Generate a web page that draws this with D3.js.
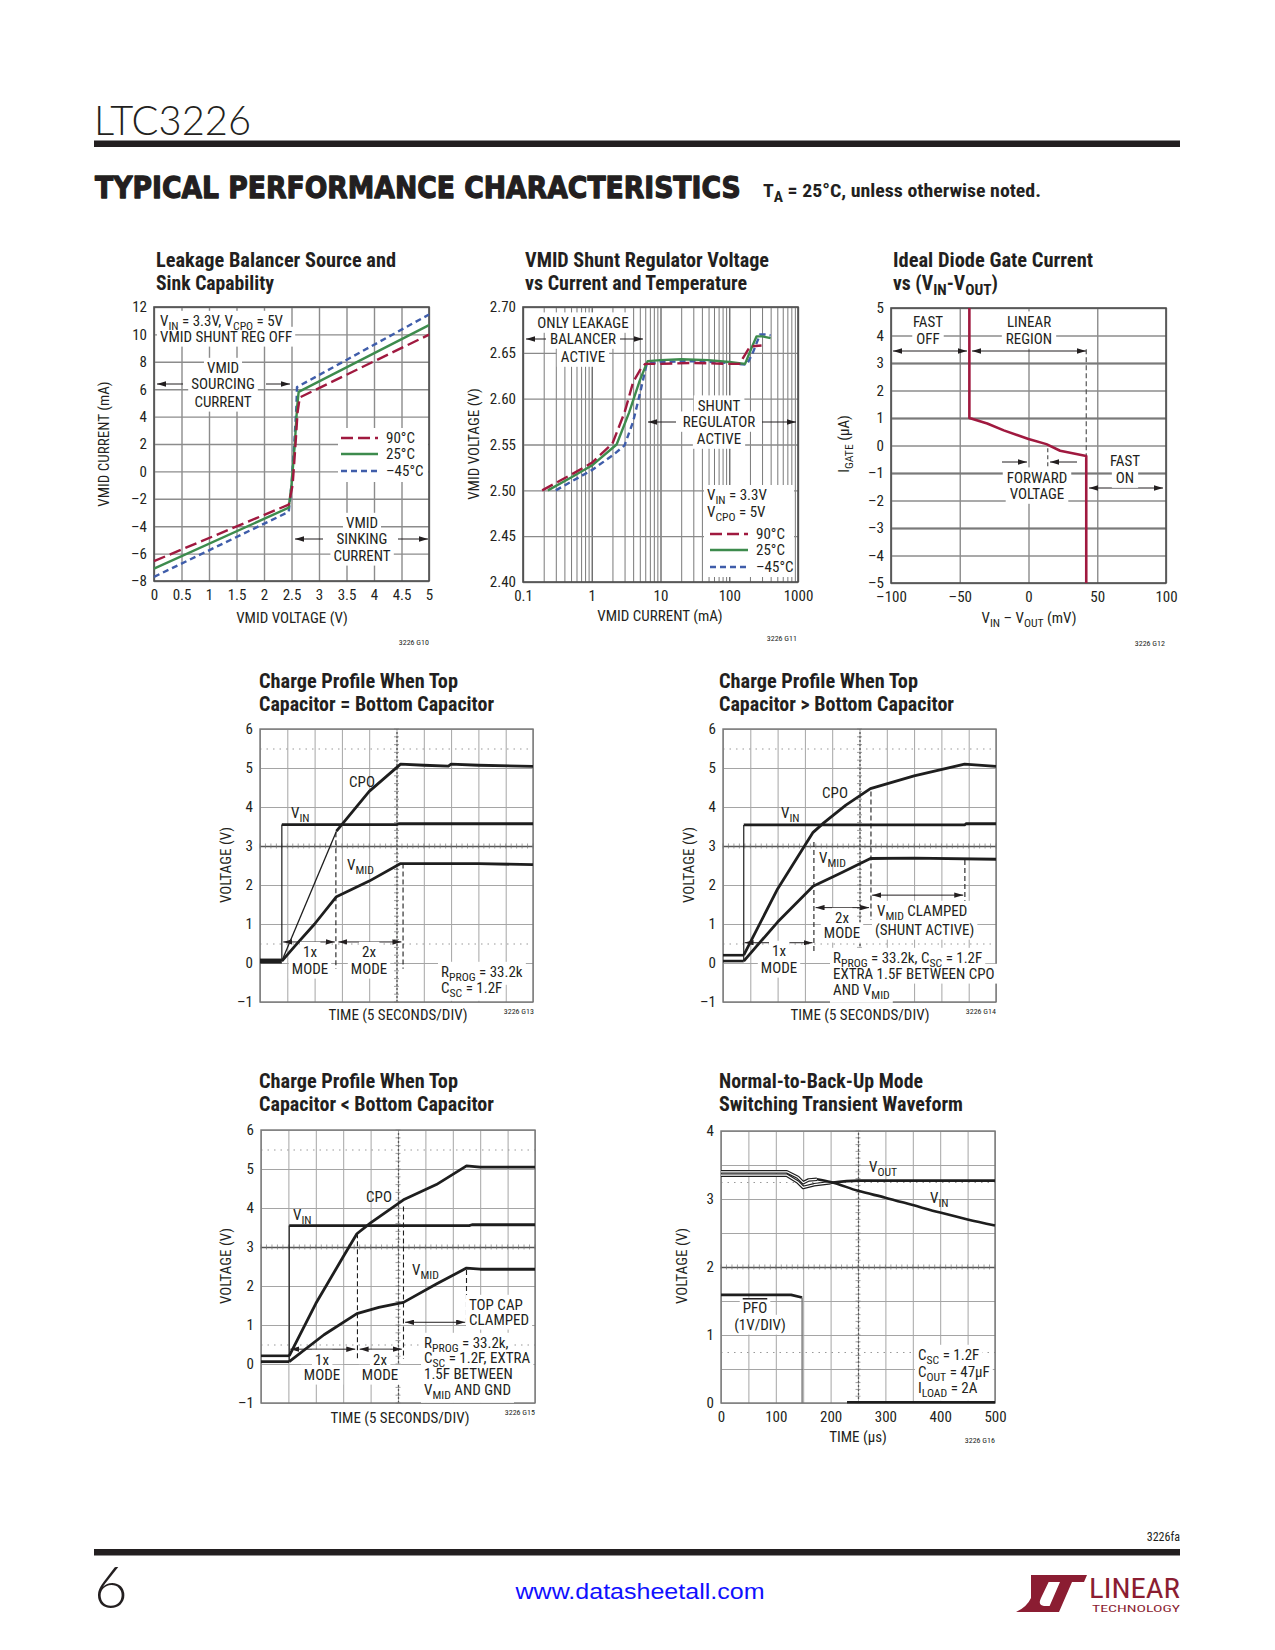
<!DOCTYPE html>
<html><head><meta charset="utf-8">
<script src="https://cdn.jsdelivr.net/npm/d3@7"></script>
<style>body{margin:0;background:#fff}</style></head>
<body><svg id="page" width="1275" height="1650"></svg>
<script>
// ---------------- DATA ----------------
// Chart 1: Leakage balancer (VMID voltage V, VMID current mA)
const c1Ticks = {x: [0,0.5,1,1.5,2,2.5,3,3.5,4,4.5,5], y: [-8,-6,-4,-2,0,2,4,6,8,10,12]};
const c1Labels = ["90°C","25°C","–45°C"];
const c1Hot  = [[0,-6.55],[2.45,-2.42],[2.52,-1],[2.57,1.8],[2.61,4.3],[2.65,5.4],[5,9.98]];
const c1Room = [[0,-7.1],[2.45,-2.65],[2.5,-1],[2.56,2],[2.6,4.6],[2.63,5.8],[5,10.68]];
const c1Cold = [[0,-7.7],[2.45,-2.95],[2.5,-1],[2.55,2],[2.59,4.8],[2.6,6.15],[5,11.45]];
// Chart 2: VMID shunt regulator (current mA, voltage V)
const c2XTicks = [0.1,1,10,100,1000];
const c2YTicks = [2.40,2.45,2.50,2.55,2.60,2.65,2.70];
const c2Hot  = [[0.19,2.500],[0.5,2.517],[1,2.530],[2.0,2.551],[3,2.585],[4,2.618],[5.2,2.633],[6,2.638],[10,2.638],[30,2.639],[100,2.638],[140,2.638],[170,2.648],[200,2.657],[295,2.658]];
const c2Room = [[0.23,2.500],[0.5,2.514],[1,2.527],[2.3,2.550],[3.5,2.585],[5,2.620],[6.5,2.641],[10,2.642],[20,2.643],[50,2.642],[100,2.640],[170,2.638],[210,2.655],[250,2.668],[300,2.668],[400,2.666]];
const c2Cold = [[0.3,2.500],[1,2.522],[2,2.538],[3.0,2.549],[4,2.575],[5,2.605],[6.3,2.638],[10,2.640],[30,2.641],[100,2.639],[180,2.637],[220,2.650],[280,2.670],[330,2.670],[400,2.669]];
// Chart 3: Ideal diode gate current (mV, µA)
const c3XTicks = [-100,-50,0,50,100];
const c3YTicks = [-5,-4,-3,-2,-1,0,1,2,3,4,5];
const c3Gate = [[-43,5],[-43,1],[-30,0.8],[-18,0.55],[0,0.24],[13,0.05],[23,-0.19],[42,-0.38],[42,-5]];
// Scope charts: x in divisions (5 s/div), y in volts
const scopeYTicks = [-1,0,1,2,3,4,5,6];
const c4Base = [[0,0.05],[0.8,0.05]];
const c4Vin  = [[0.8,3.55],[5,3.55],[5.1,3.57],[7,3.57],[10,3.57]];
const c4Cpo1 = [[0.8,0.05],[2.8,3.38]];
const c4Cpo2 = [[2.8,3.38],[3.2,3.72],[4,4.4],[5.15,5.1],[6,5.07],[6.9,5.05],[7.0,5.1],[8,5.07],[10,5.04]];
const c4Vmid = [[0.8,0.05],[1.3,0.45],[2,1.0],[2.8,1.7],[4,2.1],[5.15,2.55],[6,2.55],[8,2.55],[10,2.52]];
const c5BaseHi = [[0,0.2],[0.76,0.2]];
const c5BaseLo = [[0,0.05],[0.76,0.05]];
const c5Vin  = [[0.76,3.54],[8.85,3.54],[8.9,3.57],[10,3.57]];
const c5Cpo  = [[0.76,0.2],[2,1.9],[3.3,3.35],[3.7,3.6],[4.5,4.05],[5.4,4.47],[7,4.8],[8.85,5.1],[10,5.04]];
const c5Vmid = [[0.76,0.05],[2,1.05],[3.3,1.97],[4.3,2.3],[5.4,2.68],[7,2.69],[10,2.66]];
const c6BaseHi = [[0,0.21],[1.03,0.21]];
const c6BaseLo = [[0,0.06],[1.03,0.06]];
const c6Vin  = [[1.03,3.55],[7.6,3.55],[7.7,3.57],[10,3.57]];
const c6Cpo  = [[1.03,0.21],[2,1.55],[3,2.75],[3.5,3.34],[4,3.62],[5.2,4.21],[6.4,4.6],[7.5,5.08],[8,5.05],[10,5.05]];
const c6Vmid = [[1.03,0.06],[2.3,0.75],[3.5,1.29],[4.3,1.45],[5.2,1.58],[6.4,2.05],[7.5,2.46],[8,2.43],[10,2.43]];
// Chart 7: switching transient (µs, V)
const c7XTicks = [0,100,200,300,400,500];
const c7YTicks = [0,1,2,3,4];
const c7Vin  = [[0,3.40],[120,3.40],[140,3.32],[150,3.24],[160,3.28],[175,3.29],[200,3.25],[250,3.12],[300,3.02],[350,2.91],[400,2.80],[450,2.70],[500,2.61]];
const c7Vout = [[0,3.35],[120,3.35],[140,3.25],[150,3.17],[170,3.21],[200,3.24],[250,3.27],[500,3.27]];
const c7Pfo  = [[0,1.59],[128,1.59],[148,1.55]];
const c7PfoLow = [[230,0.01],[500,0.01]];

// ---------------- HELPERS ----------------
const FF = "'Liberation Sans Narrow','Arial Narrow','Roboto Condensed','DejaVu Sans Condensed',Roboto,sans-serif";
const FS = 15;
const INK = '#231f20';
const RED = '#a0193f', GREEN = '#3d8b4d', BLUE = '#3f5daa';
const svg = d3.select('#page');
svg.append('rect').attr('width',1275).attr('height',1650).attr('fill','#fff');
const defs = svg.append('defs');
defs.append('marker').attr('id','ah').attr('viewBox','0 0 10 6').attr('refX',10).attr('refY',3)
  .attr('markerWidth',9).attr('markerHeight',5.4).attr('markerUnits','userSpaceOnUse')
  .attr('orient','auto-start-reverse').append('path').attr('d','M0,0L10,3L0,6Z').attr('fill',INK);
// layers: white knock-out boxes under all annotation texts
const haloG = svg.append('g').attr('class','halos');
const textG = svg.append('g').attr('class','texts');

function rich(parent, x, y, str, o={}){
  const fs=o.size||FS;
  const t=(o.halo?textG:parent).append('text').attr('x',x).attr('y',y).attr('font-family',o.family||FF).attr('font-size',fs)
    .attr('text-anchor',o.anchor||'start').attr('fill',o.fill||INK);
  if(o.weight) t.attr('font-weight',o.weight);
  if(o.rotate) t.attr('transform',`rotate(${o.rotate},${x},${y})`);
  if(o.len) t.attr('textLength',o.len).attr('lengthAdjust','spacingAndGlyphs');
  if(o.deco) t.attr('text-decoration',o.deco);
  if(o.stroke) t.attr('stroke',o.fill||INK).attr('stroke-width',o.stroke).attr('stroke-linejoin','round');
  const parts=str.split(/(_\{[^}]*\})/).filter(s=>s.length);
  let sub=false;
  parts.forEach(p=>{
    if(p.startsWith('_{')){ t.append('tspan').attr('dy',fs*0.28).attr('font-size',fs*0.78).text(p.slice(2,-1)); sub=true; }
    else { const ts=t.append('tspan').text(p); if(sub){ ts.attr('dy',-fs*0.28); sub=false; } }
  });
  if(o.fit){
    const w=t.node().getComputedTextLength();
    const s=o.fit/w;
    t.attr('transform',`translate(${x},${y}) scale(${s},1) translate(${-x},${-y})`);
  }
  if(o.halo){
    const b=t.node().getBBox(), p=o.halo/2;
    haloG.append('rect').attr('x',b.x-p).attr('y',b.y-p*0.4).attr('width',b.width+2*p).attr('height',b.height+p*0.6).attr('fill','#fff');
  }
  return t;
}
function arrow(x1,y1,x2,y2,both){
  const l=svg.append('line').attr('x1',x1).attr('y1',y1).attr('x2',x2).attr('y2',y2)
    .attr('stroke',INK).attr('stroke-width',1).attr('marker-end','url(#ah)');
  if(both) l.attr('marker-start','url(#ah)');
}
const fmtMinus = d => d<0 ? '–'+Math.abs(d) : String(d);
function title(x,y,l1,w1,l2,w2){
  rich(svg,x,y,l1,{size:19.5,weight:'bold',len:w1});
  rich(svg,x,y+23,l2,{size:19.5,weight:'bold',len:w2});
}
function gridX(x,y,vals,opt={}){
  const [y0,y1]=y.range();
  const g=svg.append('g').attr('transform',`translate(0,${y0})`)
    .call(d3.axisBottom(x).tickValues(vals).tickSize(-(y0-y1)).tickFormat(''));
  g.select('.domain').remove();
  g.selectAll('line').attr('stroke',opt.color||'#8c8c8c').attr('stroke-width',opt.w||1.2).attr('stroke-dasharray',opt.dash||null);
  return g;
}
function gridY(x,y,vals,opt={}){
  const [x0,x1]=x.range();
  const g=svg.append('g').attr('transform',`translate(${x0},0)`)
    .call(d3.axisLeft(y).tickValues(vals).tickSize(-(x1-x0)).tickFormat(''));
  g.select('.domain').remove();
  g.selectAll('line').attr('stroke',opt.color||'#8c8c8c').attr('stroke-width',opt.w||1.2).attr('stroke-dasharray',opt.dash||null);
  return g;
}
function labelsX(x,y,vals,fmt,pad){
  const g=svg.append('g').attr('transform',`translate(0,${y.range()[0]})`)
    .call(d3.axisBottom(x).tickValues(vals).tickSize(0).tickPadding(pad||8).tickFormat(fmt));
  g.select('.domain').remove();
  g.selectAll('text').attr('font-family',FF).attr('font-size',FS).attr('fill',INK);
}
function labelsY(x,y,vals,fmt,pad){
  const g=svg.append('g').attr('transform',`translate(${x.range()[0]},0)`)
    .call(d3.axisLeft(y).tickValues(vals).tickSize(0).tickPadding(pad||7).tickFormat(fmt));
  g.select('.domain').remove();
  g.selectAll('text').attr('font-family',FF).attr('font-size',FS).attr('fill',INK);
}
function frame(x,y,color,w){
  const [x0,x1]=x.range(),[y0,y1]=y.range();
  svg.append('rect').attr('x',x0).attr('y',y1).attr('width',x1-x0).attr('height',y0-y1)
    .attr('fill','none').attr('stroke',color||'#4d4d4d').attr('stroke-width',w||1.6);
}
function path(x,y,data,stroke,w,dash,curve){
  const line=d3.line().x(d=>x(d[0])).y(d=>y(d[1])).curve(curve||d3.curveLinear);
  return svg.append('path').attr('d',line(data)).attr('fill','none').attr('stroke',stroke)
    .attr('stroke-width',w).attr('stroke-dasharray',dash||null).attr('stroke-linejoin','round').attr('stroke-linecap','butt');
}
function seg(x,y,xa,ya,xb,yb,stroke,w,dash){
  svg.append('line').attr('x1',x(xa)).attr('y1',y(ya)).attr('x2',x(xb)).attr('y2',y(yb))
    .attr('stroke',stroke).attr('stroke-width',w).attr('stroke-dasharray',dash||null);
}
function code(xr,yb,txt){ rich(svg,xr,yb,txt,{size:8,anchor:'end'}); }
function xLabel(cx,yb,txt){ rich(svg,cx,yb,txt,{anchor:'middle'}); }
function yLabel(xc,cy,txt){ rich(svg,xc+5,cy,txt,{anchor:'middle',rotate:-90}); }

// ---------------- HEADER / FOOTER ----------------
rich(svg,94,135,'LTC3226',{size:42,weight:300,family:"Lato,'Open Sans',Roboto,sans-serif",len:157});
svg.append('rect').attr('x',94).attr('y',140.5).attr('width',1086).attr('height',6.5).attr('fill',INK);
rich(svg,95,198,'TYPICAL PERFORMANCE CHARACTERISTICS',{size:31,weight:900,family:"'DejaVu Sans',Roboto,sans-serif",fit:646,stroke:1.3});
rich(svg,763,197,'T_{A} = 25°C, unless otherwise noted.',{size:19,weight:'bold',len:278});
rich(svg,1180,1541,'3226fa',{size:12,anchor:'end'});
svg.append('rect').attr('x',94).attr('y',1549).attr('width',1086).attr('height',6.5).attr('fill',INK);
rich(svg,94,1608,'6',{size:58,weight:300,family:"Lato,'Open Sans',Roboto,sans-serif"});
rich(svg,640,1599,'www.datasheetall.com',{size:22,anchor:'middle',fill:'#1010ff',family:"'Liberation Sans',Arial,sans-serif",len:249});
const LOGO='#8b1d32';
svg.append('path').attr('d','M1031,1575 L1052,1575 L1041,1598 Q1037,1606 1046,1606 L1052,1606 L1048,1612 L1016,1612 Q1027,1607 1031,1598 Z').attr('fill',LOGO);
svg.append('path').attr('d','M1047,1575 L1087,1575 L1084,1582 L1072,1582 L1059,1612 L1047,1612 L1060,1582 L1044,1582 Z').attr('fill',LOGO);
rich(svg,1089,1598,'LINEAR',{size:28,fill:LOGO,len:91});
rich(svg,1092,1612,'TECHNOLOGY',{size:9.5,fill:LOGO,len:88});

// ---------------- CHART 1 ----------------
{
  const x=d3.scaleLinear([0,5],[154,429]), y=d3.scaleLinear([-8,12],[581,307]);
  title(156,267,'Leakage Balancer Source and',240,'Sink Capability',118);
  gridX(x,y,c1Ticks.x,{w:1.4}); gridY(x,y,c1Ticks.y,{w:1.4});
  frame(x,y);
  labelsX(x,y,c1Ticks.x,d=>String(d),8); labelsY(x,y,c1Ticks.y,fmtMinus,7);
  const H=6;
  rich(svg,160,326,'V_{IN} = 3.3V, V_{CPO} = 5V',{halo:H});
  rich(svg,160,342,'VMID SHUNT REG OFF',{halo:H});
  ['VMID','SOURCING','CURRENT'].forEach((s,i)=>rich(svg,223,[373,389,407][i],s,{anchor:'middle',halo:H}));
  ['VMID','SINKING','CURRENT'].forEach((s,i)=>rich(svg,362,[528,544,561][i],s,{anchor:'middle',halo:H}));
  arrow(183,384,157,384); arrow(266,384,290,384);
  arrow(323,539,295,539); arrow(398,539,428,539);
  path(x,y,c1Cold,BLUE,2.4,'6,4');
  path(x,y,c1Room,GREEN,2.4);
  path(x,y,c1Hot,RED,2.4,'12,5');
  // legend
  svg.append('rect').attr('x',338).attr('y',428).attr('width',90).attr('height',54).attr('fill','#fff');
  [[RED,'12,5'],[GREEN,null],[BLUE,'6,4']].forEach((s,i)=>{
    const yy=[438,454,471][i];
    svg.append('line').attr('x1',341).attr('x2',378).attr('y1',yy).attr('y2',yy).attr('stroke',s[0]).attr('stroke-width',2.4).attr('stroke-dasharray',s[1]);
    rich(svg,386,yy+5,c1Labels[i]);
  });
  xLabel(292,623,'VMID VOLTAGE (V)'); yLabel(104,444,'VMID CURRENT (mA)');
  code(429,645,'3226 G10');
}
// ---------------- CHART 2 ----------------
{
  const x=d3.scaleLog([0.1,1000],[523,798]), y=d3.scaleLinear([2.40,2.70],[582,307]);
  title(525,267,'VMID Shunt Regulator Voltage',244,'vs Current and Temperature',222);
  const minor=[]; [0.1,1,10,100].forEach(d=>{for(let k=2;k<=9;k++) minor.push(d*k);});
  gridX(x,y,minor,{w:1,color:'#7a7a7a'});
  gridX(x,y,c2XTicks,{w:1.4,color:'#6a6a6a'});
  gridY(x,y,c2YTicks,{w:1.4,color:'#8a8a8a'});
  frame(x,y);
  labelsX(x,y,c2XTicks,d=>String(d),8); labelsY(x,y,c2YTicks,d=>d.toFixed(2),7);
  const H=8;
  ['ONLY LEAKAGE','BALANCER','ACTIVE'].forEach((s,i)=>rich(svg,583,[328,344,362][i],s,{anchor:'middle',halo:H}));
  arrow(546,339,526,339); arrow(620,339,643,339);
  ['SHUNT','REGULATOR','ACTIVE'].forEach((s,i)=>rich(svg,719,[411,427,444][i],s,{anchor:'middle',halo:H}));
  arrow(676,422,648,422); arrow(762,422,796,422);
  svg.append('rect').attr('x',704).attr('y',485).attr('width',90).attr('height',92).attr('fill','#fff');
  path(x,y,c2Cold,BLUE,2.4,'6,4');
  path(x,y,c2Room,GREEN,2.4);
  path(x,y,c2Hot,RED,2.4,'12,5');
  rich(svg,707,500,'V_{IN} = 3.3V'); rich(svg,707,517,'V_{CPO} = 5V');
  [[RED,'12,5'],[GREEN,null],[BLUE,'6,4']].forEach((s,i)=>{
    const yy=[534,550,567][i];
    svg.append('line').attr('x1',710).attr('x2',748).attr('y1',yy).attr('y2',yy).attr('stroke',s[0]).attr('stroke-width',2.4).attr('stroke-dasharray',s[1]);
    rich(svg,756,yy+5,c1Labels[i]);
  });
  xLabel(660,621,'VMID CURRENT (mA)'); yLabel(474,444,'VMID VOLTAGE (V)');
  code(797,641,'3226 G11');
}
// ---------------- CHART 3 ----------------
{
  const x=d3.scaleLinear([-100,100],[891,1166]), y=d3.scaleLinear([-5,5],[583,308]);
  title(893,267,'Ideal Diode Gate Current',200,'vs (V_{IN}-V_{OUT})',105);
  gridX(x,y,c3XTicks,{w:1.4}); gridY(x,y,c3YTicks,{w:1.4});
  gridY(x,y,[3,1,-1,-3],{w:2.2,color:'#7a7a7a'});
  frame(x,y);
  labelsX(x,y,c3XTicks,fmtMinus,8); labelsY(x,y,c3YTicks,fmtMinus,7);
  const H=8;
  rich(svg,928,327,'FAST',{anchor:'middle',halo:H}); rich(svg,928,344,'OFF',{anchor:'middle',halo:H});
  rich(svg,1029,327,'LINEAR',{anchor:'middle',halo:H}); rich(svg,1029,344,'REGION',{anchor:'middle',halo:H});
  rich(svg,1037,483,'FORWARD',{anchor:'middle',halo:H}); rich(svg,1037,499,'VOLTAGE',{anchor:'middle',halo:H});
  rich(svg,1125,466,'FAST',{anchor:'middle',halo:H}); rich(svg,1125,483,'ON',{anchor:'middle',halo:H});
  seg(x,y,42,3.5,42,-0.4,'#555',1.2,'5,3');
  seg(x,y,14,-0.1,14,-0.75,'#555',1.2,'4,3');
  arrow(893,351,967,351,true); arrow(972,351,1086,351,true);
  arrow(1002,462,1027,462); arrow(1077,462,1050,462);
  arrow(1089,488,1163,488,true);
  path(x,y,c3Gate,RED,2.6);
  xLabel(1029,623,'V_{IN} – V_{OUT} (mV)'); yLabel(844,444,'I_{GATE} (µA)');
  code(1165,646,'3226 G12');
}
// ---------------- SCOPE CHARTS ----------------
function scopeGrid(x,y){
  gridX(x,y,d3.range(0,11),{w:1,color:'#a5a5a5'});
  gridY(x,y,scopeYTicks,{w:1,color:'#a5a5a5'});
  gridY(x,y,[0.5,5.5],{w:1.2,color:'#999',dash:'1.5,5'});
  gridX(x,y,[5],{w:1.3,color:'#555',dash:'2,2'});
  gridY(x,y,[3],{w:1.4,color:'#555'});
  d3.range(0,10.01,0.2).forEach(d=>{ svg.append('line').attr('x1',x(d)).attr('x2',x(d)).attr('y1',y(3)-2.5).attr('y2',y(3)+2.5).attr('stroke','#777').attr('stroke-width',0.7); });
  d3.range(-1,6.01,0.2).forEach(d=>{ svg.append('line').attr('x1',x(5)-2.5).attr('x2',x(5)+2.5).attr('y1',y(d)).attr('y2',y(d)).attr('stroke','#777').attr('stroke-width',0.7); });
  frame(x,y,'#777',1.4);
  labelsY(x,y,scopeYTicks,fmtMinus,7);
}
const TR='#1e1e1e';
const HS=6;
// Chart 4
{
  const x=d3.scaleLinear([0,10],[260,533]), y=d3.scaleLinear([-1,6],[1002,729]);
  title(259,688,'Charge Profile When Top',199,'Capacitor = Bottom Capacitor',235);
  scopeGrid(x,y);
  path(x,y,c4Base,TR,5);
  seg(x,y,c4Vin[0][0],c4Base[1][1],c4Vin[0][0],c4Vin[0][1],TR,1.2);
  path(x,y,c4Vin,TR,2.8);
  path(x,y,c4Cpo1,TR,1.3);
  path(x,y,c4Cpo2,TR,2.8);
  path(x,y,c4Vmid,TR,2.8);
  seg(x,y,2.78,3.35,2.78,-0.15,TR,1.1,'5,3');
  seg(x,y,5.24,2.55,5.24,-0.15,TR,1.1,'5,3');
  arrow(x(0.85),y(0.54),x(2.74),y(0.54),true); arrow(x(2.87),y(0.54),x(5.18),y(0.54),true);
  rich(svg,362,787,'CPO',{anchor:'middle'});
  rich(svg,291,818,'V_{IN}');
  rich(svg,347,870,'V_{MID}');
  rich(svg,310,957,'1x',{anchor:'middle',halo:HS}); rich(svg,310,974,'MODE',{anchor:'middle',halo:HS});
  rich(svg,369,957,'2x',{anchor:'middle',halo:HS}); rich(svg,369,974,'MODE',{anchor:'middle',halo:HS});
  rich(svg,441,977,'R_{PROG} = 33.2k',{halo:HS}); rich(svg,441,993,'C_{SC} = 1.2F',{halo:HS});
  xLabel(398,1020,'TIME (5 SECONDS/DIV)'); yLabel(226,865,'VOLTAGE (V)');
  code(534,1014,'3226 G13');
}
// Chart 5
{
  const x=d3.scaleLinear([0,10],[723,996]), y=d3.scaleLinear([-1,6],[1002,729]);
  title(719,688,'Charge Profile When Top',199,'Capacitor > Bottom Capacitor',235);
  scopeGrid(x,y);
  path(x,y,c5BaseHi,TR,2.6); path(x,y,c5BaseLo,TR,2.6);
  seg(x,y,c5Vin[0][0],c5BaseLo[1][1],c5Vin[0][0],c5Vin[0][1],TR,1.2);
  path(x,y,c5Vin,TR,2.8);
  path(x,y,c5Cpo,TR,2.8);
  path(x,y,c5Vmid,TR,2.8);
  seg(x,y,3.33,3.1,3.33,0.25,TR,1.1,'5,3');
  seg(x,y,5.42,4.4,5.42,1.1,TR,1.1,'5,3');
  seg(x,y,8.86,2.64,8.86,1.55,TR,1.1,'5,3');
  arrow(x(0.79),y(0.52),x(3.28),y(0.52),true);
  arrow(x(3.39),y(1.42),x(5.35),y(1.42),true);
  arrow(x(5.46),y(1.74),x(8.8),y(1.74),true);
  rich(svg,835,798,'CPO',{anchor:'middle'});
  rich(svg,781,818,'V_{IN}');
  rich(svg,819,863,'V_{MID}');
  rich(svg,779,956,'1x',{anchor:'middle',halo:HS}); rich(svg,779,973,'MODE',{anchor:'middle',halo:HS});
  rich(svg,842,923,'2x',{anchor:'middle',halo:HS}); rich(svg,842,938,'MODE',{anchor:'middle',halo:HS});
  rich(svg,877,916,'V_{MID} CLAMPED',{halo:HS}); rich(svg,875,935,'(SHUNT ACTIVE)',{halo:HS});
  rich(svg,833,963,'R_{PROG} = 33.2k, C_{SC} = 1.2F',{halo:HS});
  rich(svg,833,979,'EXTRA 1.5F BETWEEN CPO',{halo:HS});
  rich(svg,833,995,'AND V_{MID}',{halo:HS});
  xLabel(860,1020,'TIME (5 SECONDS/DIV)'); yLabel(689,865,'VOLTAGE (V)');
  code(996,1014,'3226 G14');
}
// Chart 6
{
  const x=d3.scaleLinear([0,10],[261,535]), y=d3.scaleLinear([-1,6],[1403,1130]);
  title(259,1088,'Charge Profile When Top',199,'Capacitor < Bottom Capacitor',235);
  scopeGrid(x,y);
  path(x,y,c6BaseHi,TR,2.6); path(x,y,c6BaseLo,TR,2.8);
  seg(x,y,c6Vin[0][0],c6BaseLo[1][1],c6Vin[0][0],c6Vin[0][1],TR,1.2);
  path(x,y,c6Vin,TR,2.8);
  path(x,y,c6Cpo,TR,2.8);
  path(x,y,c6Vmid,TR,2.8);
  seg(x,y,3.52,3.35,3.52,0.15,TR,1.1,'5,3');
  seg(x,y,5.2,4.04,5.2,0.13,TR,1.1,'5,3');
  seg(x,y,7.5,2.41,7.5,1.05,TR,1.1,'5,3');
  arrow(x(1.07),y(0.38),x(3.44),y(0.38),true);
  arrow(x(3.6),y(0.38),x(5.14),y(0.38),true);
  arrow(x(5.26),y(1.07),x(7.45),y(1.07),true);
  rich(svg,379,1202,'CPO',{anchor:'middle'});
  rich(svg,293,1220,'V_{IN}');
  rich(svg,412,1275,'V_{MID}');
  rich(svg,322,1365,'1x',{anchor:'middle',halo:HS}); rich(svg,322,1380,'MODE',{anchor:'middle',halo:HS});
  rich(svg,380,1365,'2x',{anchor:'middle',halo:HS}); rich(svg,380,1380,'MODE',{anchor:'middle',halo:HS});
  rich(svg,469,1310,'TOP CAP',{halo:HS}); rich(svg,469,1325,'CLAMPED',{halo:HS});
  rich(svg,424,1348,'R_{PROG} = 33.2k,',{halo:HS});
  rich(svg,424,1363,'C_{SC} = 1.2F, EXTRA',{halo:HS});
  rich(svg,424,1379,'1.5F BETWEEN',{halo:HS});
  rich(svg,424,1395,'V_{MID} AND GND',{halo:HS});
  xLabel(400,1423,'TIME (5 SECONDS/DIV)'); yLabel(226,1266,'VOLTAGE (V)');
  code(535,1415,'3226 G15');
}
// Chart 7
{
  const x=d3.scaleLinear([0,500],[721,995]), y=d3.scaleLinear([0,4],[1403,1131]);
  title(719,1088,'Normal-to-Back-Up Mode',204,'Switching Transient Waveform',244);
  gridX(x,y,d3.range(0,501,50),{w:1,color:'#a5a5a5'});
  gridY(x,y,d3.range(0,4.01,0.5),{w:1,color:'#a5a5a5'});
  gridY(x,y,[3.25,0.75],{w:1.2,color:'#999',dash:'1.5,5'});
  gridX(x,y,[250],{w:1.3,color:'#555',dash:'2,2'});
  gridY(x,y,[2],{w:1.4,color:'#555'});
  d3.range(0,500.1,10).forEach(d=>svg.append('line').attr('x1',x(d)).attr('x2',x(d)).attr('y1',y(2)-2.5).attr('y2',y(2)+2.5).attr('stroke','#777').attr('stroke-width',0.7));
  d3.range(0,4.01,0.1).forEach(d=>svg.append('line').attr('x1',x(250)-2.5).attr('x2',x(250)+2.5).attr('y1',y(d)).attr('y2',y(d)).attr('stroke','#777').attr('stroke-width',0.7));
  frame(x,y,'#777',1.4);
  labelsX(x,y,c7XTicks,d=>String(d),8); labelsY(x,y,c7YTicks,d=>String(d),7);
  const outline=(data)=>{ path(x,y,data,TR,3.6); path(x,y,data,'#fff',1.2); };
  outline(c7Vin.slice(0,6)); outline(c7Vout.slice(0,6));
  path(x,y,c7Vin.slice(5),TR,2.6,null,d3.curveMonotoneX);
  path(x,y,c7Vout.slice(5),TR,2.6,null,d3.curveMonotoneX);
  path(x,y,c7Pfo,TR,2.6);
  seg(x,y,148,1.55,148,0,'#777',1.4);
  path(x,y,c7PfoLow,TR,2.6);
  rich(svg,869,1172,'V_{OUT}');
  rich(svg,930,1203,'V_{IN}');
  rich(svg,755,1313,'PFO',{anchor:'middle',deco:'overline',halo:HS});
  rich(svg,760,1330,'(1V/DIV)',{anchor:'middle',halo:HS});
  rich(svg,918,1360,'C_{SC} = 1.2F',{halo:HS});
  rich(svg,918,1377,'C_{OUT} = 47µF',{halo:HS});
  rich(svg,918,1393,'I_{LOAD} = 2A',{halo:HS});
  xLabel(858,1442,'TIME (µs)'); yLabel(682,1266,'VOLTAGE (V)');
  code(995,1443,'3226 G16');
}
haloG.raise(); textG.raise();
</script></body></html>
